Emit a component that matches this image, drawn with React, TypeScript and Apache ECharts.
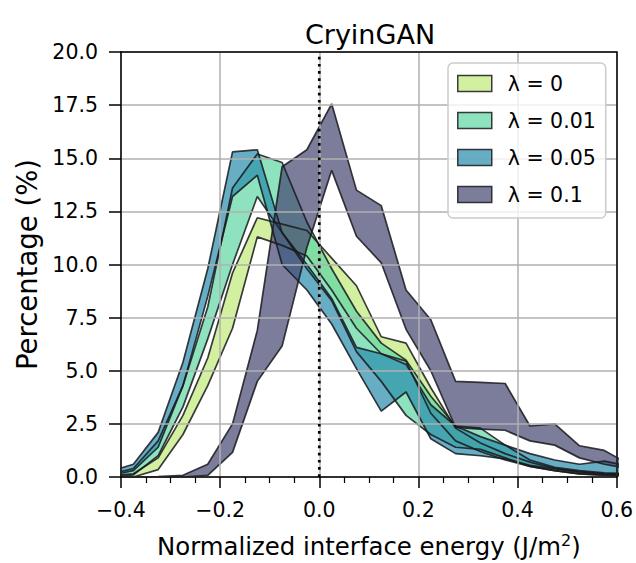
import React, { useEffect, useRef } from "react";
import * as echarts from "echarts";

// Bin centres (J/m^2)
const xBins = [-0.425, -0.375, -0.325, -0.275, -0.225, -0.175, -0.125, -0.075, -0.025, 0.025, 0.075, 0.125, 0.175, 0.225, 0.275, 0.325, 0.375, 0.425, 0.475, 0.525, 0.575, 0.625];

// λ = 0
const lam0Upper = [0.05, 0.15, 0.9, 2.9, 5.6, 9.6, 12.2, 11.9, 11.6, 10.3, 9.0, 6.6, 6.3, 4.2, 2.3, 1.6, 1.1, 0.7, 0.4, 0.25, 0.15, 0.1];
const lam0Lower = [0.0, 0.0, 0.35, 2.0, 4.3, 7.0, 11.3, 10.9, 10.4, 8.8, 7.0, 5.8, 5.45, 3.0, 1.7, 1.2, 0.8, 0.5, 0.3, 0.15, 0.08, 0.05];
// λ = 0.01
const lam001Upper = [0.1, 0.4, 1.7, 4.3, 8.0, 13.6, 15.2, 14.8, 12.0, 9.8, 7.8, 6.3, 5.5, 3.8, 2.4, 2.3, 1.5, 0.8, 0.45, 0.3, 0.2, 0.15];
const lam001Lower = [0.0, 0.1, 1.0, 3.3, 6.5, 10.0, 13.2, 11.5, 9.8, 8.3, 5.9, 4.5, 2.9, 2.0, 1.4, 1.3, 0.9, 0.5, 0.3, 0.15, 0.1, 0.05];
// λ = 0.05
const lam005Upper = [0.25, 0.6, 2.1, 5.4, 9.8, 15.3, 15.4, 11.5, 10.0, 8.4, 6.1, 5.8, 5.3, 3.4, 2.4, 1.9, 1.5, 1.1, 0.8, 0.6, 0.75, 0.5];
const lam005Lower = [0.05, 0.3, 1.4, 4.3, 8.5, 13.2, 14.2, 10.0, 8.8, 7.2, 5.1, 3.1, 4.0, 1.8, 1.1, 1.0, 0.85, 0.55, 0.38, 0.22, 0.15, 0.1];
// λ = 0.1
const lam01Upper = [0, 0, 0.02, 0.08, 0.6, 2.5, 6.9, 14.6, 15.4, 17.56, 13.5, 12.77, 8.8, 7.4, 4.5, 4.45, 4.4, 2.4, 2.5, 1.47, 1.25, 0.6];
const lam01Lower = [0, 0, 0, 0, 0.08, 1.16, 4.5, 6.16, 10.8, 14.43, 11.33, 10.08, 6.95, 5.0, 2.33, 2.25, 2.2, 1.7, 1.5, 0.9, 0.6, 0.4];

const seriesNames = ["λ = 0", "λ = 0.01", "λ = 0.05", "λ = 0.1"];
const uppers = [lam0Upper, lam001Upper, lam005Upper, lam01Upper];
const lowers = [lam0Lower, lam001Lower, lam005Lower, lam01Lower];
const fillColors = [
  "rgba(191,234,119,0.7)",
  "rgba(94,214,162,0.7)",
  "rgba(39,139,171,0.7)",
  "rgba(69,69,112,0.7)",
];
const edgeColor = "rgba(25,25,30,0.85)";

const FONT = "DejaVu Sans";

function fmt(v: number) {
  const s = Math.abs(v).toFixed(1);
  return v < -1e-9 ? "\u2212" + s : s;
}

export default function App() {
  const ref = useRef<HTMLDivElement>(null);
  useEffect(() => {
    if (!ref.current) return;
    const chart = echarts.init(ref.current, undefined, { renderer: "svg" });
    const series: any[] = [];
    // dummy bar series for legend patches
    seriesNames.forEach((n, i) => {
      series.push({
        type: "bar",
        name: n,
        data: [],
        itemStyle: { color: fillColors[i], borderColor: edgeColor, borderWidth: 1.5 },
      });
    });
    seriesNames.forEach((n, i) => {
      const lo = lowers[i];
      const up = uppers[i];
      // value dimension first so that stacking applies to y
      series.push({
        type: "line",
        name: n + " lower",
        stack: "band" + i,
        encode: { x: 1, y: 0 },
        data: xBins.map((x, k) => [lo[k], x]),
        symbol: "none",
        lineStyle: { color: edgeColor, width: 1.7 },
        z: 2,
      });
      series.push({
        type: "line",
        name: n + " upper",
        stack: "band" + i,
        encode: { x: 1, y: 0 },
        data: xBins.map((x, k) => [up[k] - lo[k], x]),
        symbol: "none",
        lineStyle: { color: edgeColor, width: 1.7 },
        areaStyle: { color: fillColors[i], opacity: 1 },
        z: 2,
      });
    });
    series.push({
      type: "line",
      name: "zero",
      data: [[0, 0], [0, 20]],
      symbol: "none",
      lineStyle: { color: "#000", width: 2.7, type: [2.7, 4.5] },
      z: 6,
    });

    const option: any = {
      animation: false,
      title: {
        text: "CryinGAN",
        left: 370,
        top: 21,
        textAlign: "center",
        padding: 0,
        textStyle: { fontFamily: FONT, fontSize: 27, fontWeight: "normal", color: "#000" },
      },
      legend: {
        data: seriesNames,
        orient: "vertical",
        left: 448,
        top: 63,
        icon: "rect",
        itemWidth: 34,
        itemHeight: 16,
        itemGap: 16,
        padding: [10, 10, 13, 9],
        backgroundColor: "rgba(255,255,255,0.8)",
        borderColor: "#cccccc",
        borderWidth: 1.5,
        borderRadius: 5,
        itemStyle: { borderColor: edgeColor, borderWidth: 1.5 },
        textStyle: { fontFamily: FONT, fontSize: 20.5, color: "#000", lineHeight: 16, padding: [0, 0, 0, 11] },
      },
      grid: { left: 121, right: 17, top: 52, bottom: 85, containLabel: false },
      xAxis: [
        {
          type: "value",
          min: -0.4,
          max: 0.6,
          interval: 0.2,
          z: 3,
          name: "{n|Normalized interface energy (J/m}{s|2}{n|)}",
          nameLocation: "middle",
          nameGap: 51,
          nameTextStyle: {
            rich: {
              n: { fontFamily: FONT, fontSize: 24.4, color: "#000", lineHeight: 30, verticalAlign: "bottom" },
              s: { fontFamily: FONT, fontSize: 16, color: "#000", lineHeight: 30, verticalAlign: "bottom", padding: [0, 0, 10, 0] },
            },
          },
          axisLine: { show: true, onZero: false, lineStyle: { color: "#000", width: 1.5 } },
          axisTick: { show: true, length: 11, lineStyle: { color: "#000", width: 1.5 } },
          minorTick: { show: true, splitNumber: 4, length: 6, lineStyle: { color: "#000", width: 1.2 } },
          axisLabel: { fontFamily: FONT, fontSize: 20.5, color: "#000", margin: 22, formatter: fmt },
          splitLine: { show: true, lineStyle: { color: "#b0b0b0", width: 1.5 } },
          minorSplitLine: { show: false },
        },
        {
          type: "value",
          position: "top",
          min: -0.4,
          max: 0.6,
          z: 3,
          axisLine: { show: true, onZero: false, lineStyle: { color: "#000", width: 1.5 } },
          axisTick: { show: false },
          axisLabel: { show: false },
          splitLine: { show: false },
        },
      ],
      yAxis: [
        {
          type: "value",
          min: 0,
          max: 20,
          interval: 2.5,
          z: 3,
          name: "Percentage (%)",
          nameLocation: "middle",
          nameGap: 73,
          nameTextStyle: { fontFamily: FONT, fontSize: 27.5, color: "#000" },
          axisLine: { show: true, onZero: false, lineStyle: { color: "#000", width: 1.5 } },
          axisTick: { show: true, length: 12, lineStyle: { color: "#000", width: 1.5 } },
          axisLabel: { fontFamily: FONT, fontSize: 20.5, color: "#000", margin: 23, formatter: fmt },
          splitLine: { show: true, lineStyle: { color: "#b0b0b0", width: 1.5 } },
        },
        {
          type: "value",
          position: "right",
          min: 0,
          max: 20,
          z: 3,
          axisLine: { show: true, onZero: false, lineStyle: { color: "#000", width: 1.5 } },
          axisTick: { show: false },
          axisLabel: { show: false },
          splitLine: { show: false },
        },
      ],
      series,
    };
    chart.setOption(option);
    return () => chart.dispose();
  }, []);
  return (
    <div
      ref={ref}
      style={{ position: "absolute", left: 0, top: 0, width: 636, height: 563, background: "#fff" }}
    />
  );
}
